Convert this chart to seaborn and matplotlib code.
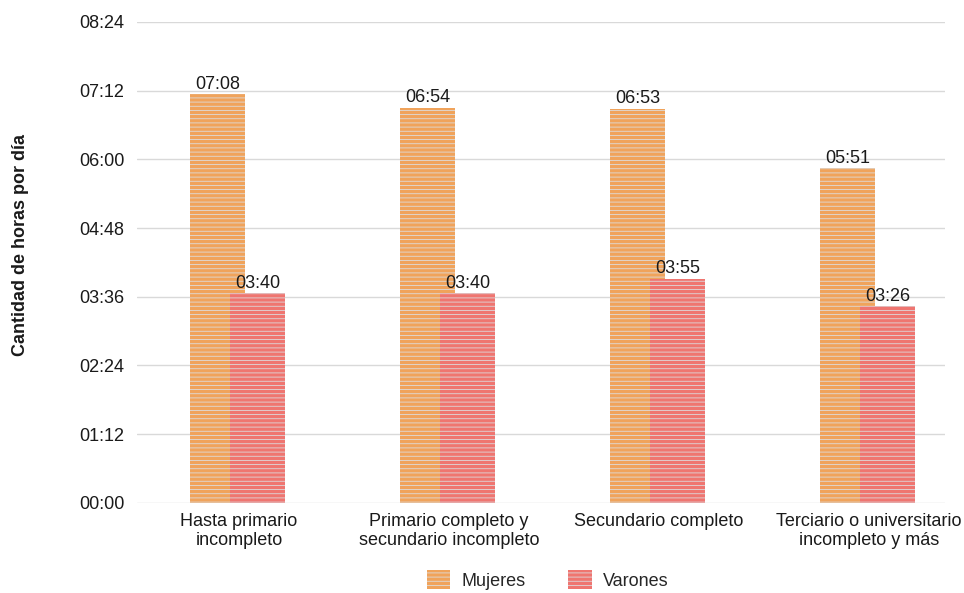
import matplotlib
matplotlib.use("Agg")
import matplotlib.pyplot as plt
from matplotlib.patches import Patch
from matplotlib.ticker import FuncFormatter
import seaborn as sns
import pandas as pd

# Data (minutes per day)
niveles = ["Hasta primario\nincompleto",
           "Primario completo y\nsecundario incompleto",
           "Secundario completo",
           "Terciario o universitario\nincompleto y más"]
mujeres = [428, 414, 413, 351]   # 07:08, 06:54, 06:53, 05:51
varones = [220, 220, 235, 206]   # 03:40, 03:40, 03:55, 03:26
series = ["Mujeres", "Varones"]
yticks = [0, 72, 144, 216, 288, 360, 432, 504]

colors = {"Mujeres": "#F0A35B", "Varones": "#EF7570"}
hatch_color = "#DCE1E6"
txt = "#1A1A1A"


def hhmm(m, pos=None):
    m = int(round(m))
    return f"{m // 60:02d}:{m % 60:02d}"


df = pd.DataFrame({
    "nivel": niveles * 2,
    "minutos": mujeres + varones,
    "sexo": ["Mujeres"] * 4 + ["Varones"] * 4,
})

sns.set_style("white")
plt.rcParams["font.family"] = ["Liberation Sans", "DejaVu Sans"]
plt.rcParams["hatch.linewidth"] = 0.55

fig = plt.figure(figsize=(9.64, 5.93), dpi=100)
ax = fig.add_axes([0.142, 0.152, 0.838, 0.811])

sns.barplot(data=df, x="nivel", y="minutos", hue="sexo", palette=colors,
            saturation=1, errorbar=None, ax=ax, legend=False)

# overlapping bars, as in the original
bar_w = 0.262
offsets = {"Mujeres": -0.1, "Varones": 0.09}
for i, cont in enumerate(ax.containers):
    name = series[i]
    for j, bar in enumerate(cont):
        bar.set_width(bar_w)
        bar.set_x(j + offsets[name] - bar_w / 2)
        bar.set_hatch("----")
        bar.set_edgecolor(hatch_color)
        bar.set_linewidth(0)
        bar.set_zorder(2 + i)
    ax.bar_label(cont, labels=[hhmm(b.get_height()) for b in cont],
                 padding=1, fontsize=13, color=txt)

ax.set_ylim(0, 504)
ax.set_xlim(-0.486, 3.362)
ax.set_yticks(yticks)
ax.yaxis.set_major_formatter(FuncFormatter(hhmm))
ax.grid(axis="y", color="#D9D9D9", linewidth=1)
ax.set_axisbelow(True)
for s in ax.spines.values():
    s.set_visible(False)
ax.tick_params(axis="both", length=0, labelsize=13, labelcolor=txt)
ax.tick_params(axis="y", pad=9)
ax.tick_params(axis="x", pad=7)
ax.set_xlabel("")
ax.set_ylabel("Cantidad de horas por día", fontsize=13, fontweight="bold",
              color=txt)
ax.yaxis.set_label_coords(-0.134, 0.536)

handles = [Patch(facecolor=colors[s], edgecolor=hatch_color, hatch="----",
                 linewidth=0, label=s) for s in series]
fig.legend(handles=handles, loc="lower center", bbox_to_anchor=(0.568, -0.022),
           ncol=2, frameon=False, fontsize=13, handlelength=1.3,
           handleheight=1.2, columnspacing=2.4, handletextpad=0.6)

fig.savefig("out.png", dpi=100)
